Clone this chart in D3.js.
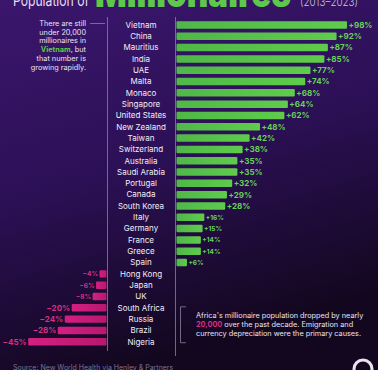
<!DOCTYPE html>
<html>
<head>
<meta charset="utf-8">
<script src="https://cdn.jsdelivr.net/npm/d3@7"></script>
<style>
  html, body { margin: 0; padding: 0; background: #1c0b30; }
  svg { display: block; font-family: Inter, "Noto Sans", sans-serif; }
</style>
</head>
<body>
<svg id="chart" width="378" height="370"></svg>
<script>
// millionaire population change 2013-2023, %
const countries = ["Vietnam", "China", "Mauritius", "India", "UAE", "Malta", "Monaco", "Singapore",
  "United States", "New Zealand", "Taiwan", "Switzerland", "Australia", "Saudi Arabia", "Portugal",
  "Canada", "South Korea", "Italy", "Germany", "France", "Greece", "Spain",
  "Hong Kong", "Japan", "UK", "South Africa", "Russia", "Brazil", "Nigeria"];
const changes = [98, 92, 87, 85, 77, 74, 68, 64, 62, 48, 42, 38, 35, 35, 32, 29, 28, 16, 15, 14, 14, 6,
  -4, -6, -8, -20, -24, -28, -45];
const noteLines = ["There are still", "under 20,000", "millionaires in", "Vietnam, but", "that number is", "growing rapidly."];
const africaLines = ["Africa's millionaire population dropped by nearly", "20,000 over the past decade. Emigration and", "currency depreciation were the primary causes."];

const svg = d3.select("#chart");
const width = +svg.attr("width");
const height = +svg.attr("height");

const data = countries.map((c, i) => ({ country: c, value: changes[i] }));

// background
const defs = svg.append("defs");
const bg = defs.append("linearGradient").attr("id", "bg").attr("x1", 0).attr("y1", 0).attr("x2", 0.3).attr("y2", 1);
bg.append("stop").attr("offset", "0%").attr("stop-color", "#3b166d");
bg.append("stop").attr("offset", "50%").attr("stop-color", "#2c1056");
bg.append("stop").attr("offset", "100%").attr("stop-color", "#13071f");
svg.append("rect").attr("width", width).attr("height", height).attr("fill", "url(#bg)");

const posX = 176.5, negX = 106.5, labelX = 141;

const y = d3.scaleBand()
  .domain(countries)
  .range([19.3, 347.4])
  .paddingInner(0.34)
  .paddingOuter(0.17);

const len = d3.scaleLinear().domain([0, 100]).range([0, 174]);

// title (cut off at top)
svg.append("text").attr("x", 13).attr("y", 6)
  .attr("font-size", 15).attr("fill", "#e6def0").attr("font-weight", 400)
  .attr("textLength", 76).attr("lengthAdjust", "spacingAndGlyphs")
  .text("Population of");
svg.append("text").attr("x", 95).attr("y", 6.5)
  .attr("font-size", 40).attr("fill", "#5ec84b").attr("font-weight", 900)
  .attr("textLength", 196).attr("lengthAdjust", "spacingAndGlyphs")
  .text("Millionaires");
svg.append("text").attr("x", 300).attr("y", 5.5)
  .attr("font-size", 12).attr("fill", "#cfc6da").attr("font-weight", 300)
  .attr("textLength", 58).attr("lengthAdjust", "spacingAndGlyphs")
  .text("(2013\u20132023)");

// guide lines
svg.append("line").attr("x1", 107.5).attr("x2", 107.5).attr("y1", 17).attr("y2", 351)
  .attr("stroke", "#8d7ea3").attr("stroke-width", 0.8);
svg.append("line").attr("x1", 175.5).attr("x2", 175.5).attr("y1", 17).attr("y2", 356)
  .attr("stroke", "#8d7ea3").attr("stroke-width", 0.8);

// gradients for bars
const gGreen = defs.append("linearGradient").attr("id", "green");
gGreen.append("stop").attr("offset", "0%").attr("stop-color", "#4fb847");
gGreen.append("stop").attr("offset", "100%").attr("stop-color", "#5fcc4c");
const gPink = defs.append("linearGradient").attr("id", "pink");
gPink.append("stop").attr("offset", "0%").attr("stop-color", "#d41f82");
gPink.append("stop").attr("offset", "100%").attr("stop-color", "#b8186e");

const rows = svg.append("g").selectAll("g")
  .data(data)
  .join("g");

rows.append("rect")
  .attr("x", d => d.value >= 0 ? posX : negX - len(-d.value))
  .attr("y", d => y(d.country))
  .attr("width", d => len(Math.abs(d.value)))
  .attr("height", y.bandwidth())
  .attr("rx", 1)
  .attr("fill", d => d.value >= 0 ? "url(#green)" : "url(#pink)");

rows.append("text")
  .attr("x", labelX)
  .attr("y", d => y(d.country) + y.bandwidth() / 2)
  .attr("dy", "0.35em")
  .attr("text-anchor", "middle")
  .attr("font-size", 8)
  .attr("fill", "#f2eef7")
  .text(d => d.country);

rows.append("text")
  .attr("x", d => d.value >= 0 ? posX + len(d.value) + 1.5 : negX - len(-d.value) - 1.5)
  .attr("y", d => y(d.country) + y.bandwidth() / 2)
  .attr("dy", "0.36em")
  .attr("text-anchor", d => d.value >= 0 ? "start" : "end")
  .attr("font-size", d => Math.abs(d.value) < 20 ? 6.5 : 8)
  .attr("font-weight", 700)
  .attr("fill", d => d.value >= 0 ? "#66d257" : "#d62f86")
  .text(d => (d.value >= 0 ? "+" : "\u2212") + Math.abs(d.value) + "%");

// Vietnam note
const note = svg.append("text").attr("font-size", 7.3).attr("fill", "#e9e4f0").attr("text-anchor", "end");
noteLines.forEach((line, i) => {
  const t = note.append("tspan").attr("x", 86).attr("y", 26 + i * 8.7);
  if (line.startsWith("Vietnam")) {
    t.append("tspan").attr("fill", "#5ec84b").attr("font-weight", 700).text("Vietnam");
    t.append("tspan").text(line.slice(7));
  } else {
    t.text(line);
  }
});
svg.append("line").attr("x1", 90).attr("x2", 105).attr("y1", 23.5).attr("y2", 23.5)
  .attr("stroke", "#8d7ea3").attr("stroke-width", 0.8);

// Africa bracket + note
const yTop = y("South Africa") + y.bandwidth() / 2 - 1;
const yBot = y("Nigeria") + y.bandwidth() / 2 + 1;
svg.append("path")
  .attr("d", `M186,${yTop}H180.5V${yBot}H186`)
  .attr("fill", "none").attr("stroke", "#8d7ea3").attr("stroke-width", 0.8);

const africa = svg.append("text").attr("font-size", 7.3).attr("fill", "#e9e4f0");
africaLines.forEach((line, i) => {
  const t = africa.append("tspan").attr("x", 196).attr("y", 318 + i * 8.8);
  if (line.startsWith("20,000")) {
    t.append("tspan").attr("fill", "#d62f86").attr("font-weight", 700).text("20,000");
    t.append("tspan").text(line.slice(6));
  } else {
    t.text(line);
  }
});

// source
svg.append("text").attr("x", 13).attr("y", 370)
  .attr("font-size", 7).attr("fill", "#7e7390")
  .text("Source: New World Health via Henley & Partners");

// logo
svg.append("circle").attr("cx", 363).attr("cy", 369).attr("r", 9)
  .attr("fill", "none").attr("stroke", "#e8e4ee").attr("stroke-width", 3);
</script>
</body>
</html>
